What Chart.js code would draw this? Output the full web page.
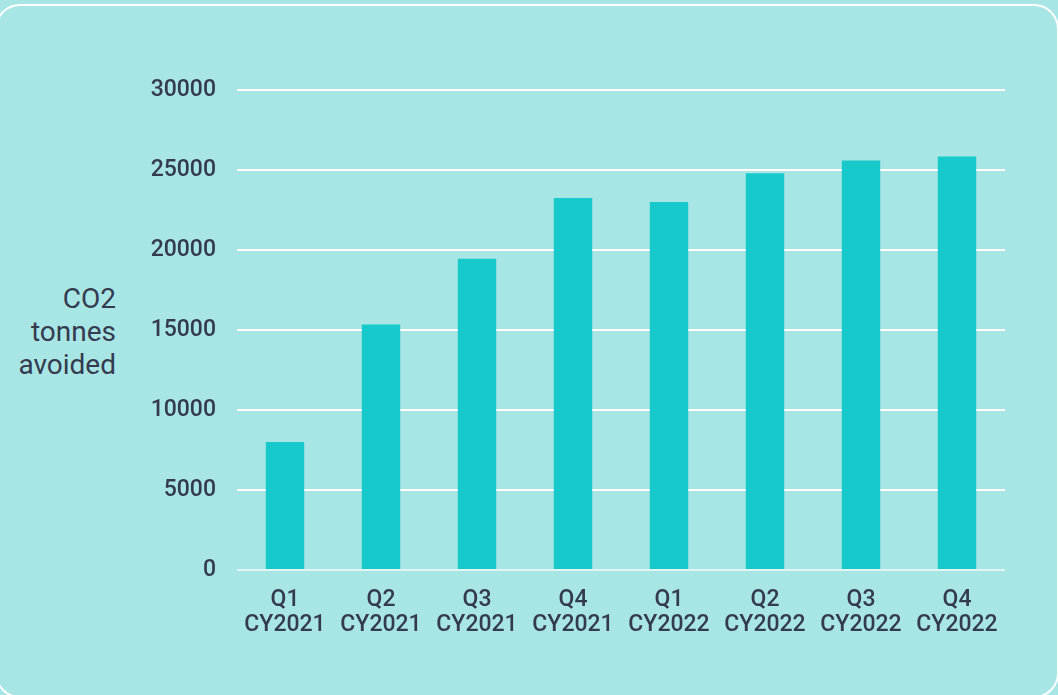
<!DOCTYPE html>
<html>
<head>
<meta charset="utf-8">
<script src="https://cdn.jsdelivr.net/npm/chart.js@4"></script>
<style>
  html, body { margin: 0; padding: 0; background: #a8e6e5; overflow: hidden; }
  .wrap { position: relative; width: 1058px; height: 695px; }
  .frame {
    position: absolute; left: -5px; top: 4px; width: 1064px; height: 694px;
    border: 2px solid #fff; border-radius: 25px; box-sizing: border-box;
  }
  .ytitle {
    position: absolute; right: calc(1058px - 116px); top: 282px;
    text-align: right; font-family: Roboto, 'Noto Sans', sans-serif;
    font-size: 28px; line-height: 33px; color: #343b4f;
  }
  canvas { position: absolute; left: 0; top: 0; }
</style>
</head>
<body>
<div class="wrap">
  <div class="frame"></div>
  <div class="ytitle">CO2<br>tonnes<br>avoided</div>
  <canvas id="chart" width="1058" height="695"></canvas>
</div>
<script>
const quarters = ['Q1', 'Q2', 'Q3', 'Q4', 'Q1', 'Q2', 'Q3', 'Q4'];
const years = ['CY2021', 'CY2021', 'CY2021', 'CY2021', 'CY2022', 'CY2022', 'CY2022', 'CY2022'];
const co2Avoided = [8000, 15350, 19450, 23250, 23000, 24800, 25600, 25850];

const TEXT = '#343b4f';
const BAR = '#17c9cb';
const FONT = "Roboto, 'Noto Sans', sans-serif";

const labels = quarters.map((q, i) => [q, years[i]]);

new Chart(document.getElementById('chart'), {
  type: 'bar',
  data: {
    labels,
    datasets: [{
      label: 'CO2 tonnes avoided',
      data: co2Avoided,
      backgroundColor: BAR,
      borderWidth: 0,
      categoryPercentage: 1,
      barPercentage: 0.4
    }]
  },
  options: {
    responsive: false,
    animation: false,
    layout: { padding: { top: 90, right: 53, left: 0, bottom: 0 } },
    plugins: { legend: { display: false }, tooltip: { enabled: false } },
    scales: {
      x: {
        grid: { display: false, drawTicks: false },
        border: { display: false },
        ticks: { font: { family: FONT, size: 23, weight: 500, lineHeight: 1.087 }, color: TEXT, padding: 18, maxRotation: 0 },
        afterFit: s => { s.height = 125; }
      },
      y: {
        min: 0,
        max: 30000,
        ticks: {
          stepSize: 5000,
          font: { family: FONT, size: 23, weight: 500 },
          color: TEXT,
          padding: 21,
          callback: v => String(v)
        },
        grid: {
          drawTicks: false,
          lineWidth: 2,
          color: ctx => ctx.tick && ctx.tick.value === 0 ? '#e3f4f5' : '#ffffff'
        },
        border: { display: false },
        afterFit: s => { s.width = 237; }
      }
    }
  }
});
</script>
</body>
</html>
